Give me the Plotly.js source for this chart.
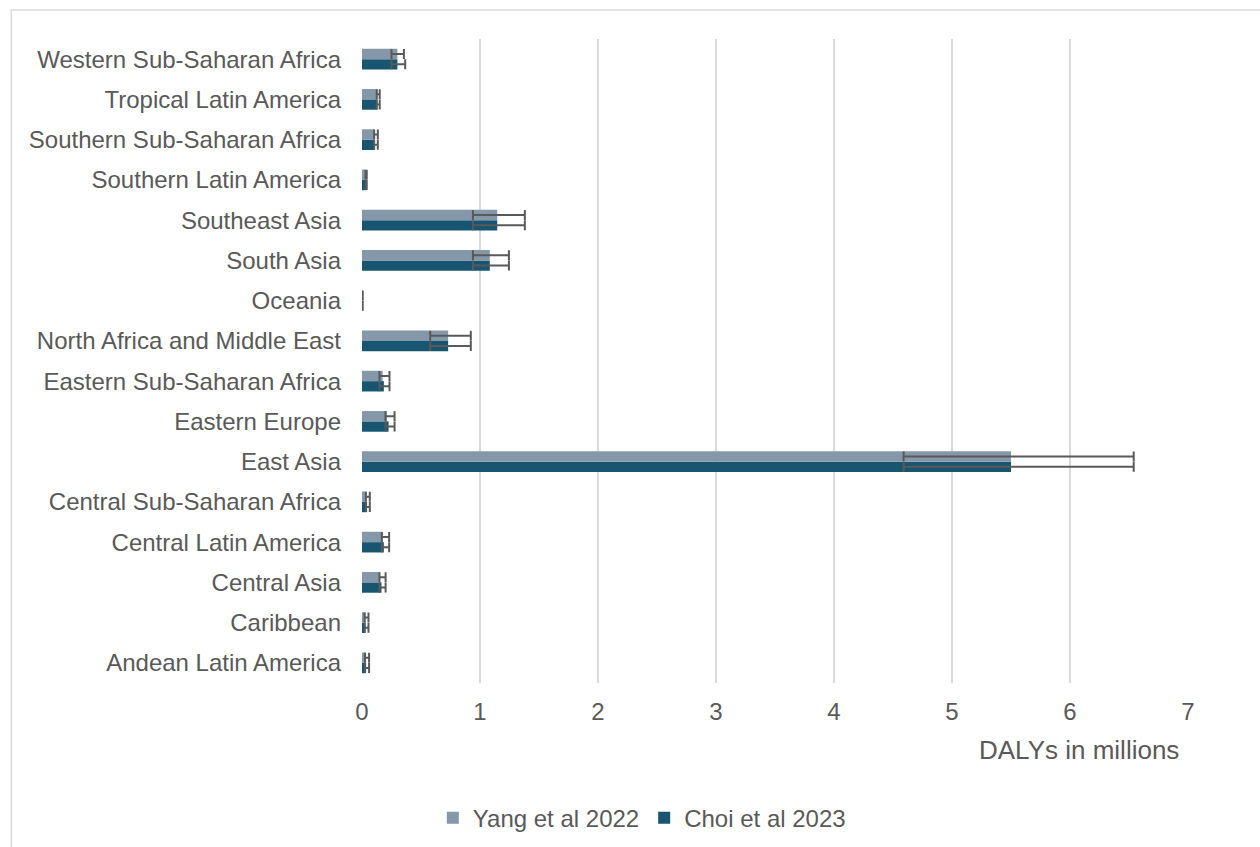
<!DOCTYPE html>
<html>
<head>
<meta charset="utf-8">
<script src="https://cdn.plot.ly/plotly-3.0.1.min.js"></script>
<style>
  html, body { margin: 0; padding: 0; background: #ffffff; }
  #chart { width: 1260px; height: 847px; }
</style>
</head>
<body>
<div id="chart"></div>
<script>
// Regions, listed bottom to top as they appear on the category axis
const regions = [
  "Andean Latin America",
  "Caribbean",
  "Central Asia",
  "Central Latin America",
  "Central Sub-Saharan Africa",
  "East Asia",
  "Eastern Europe",
  "Eastern Sub-Saharan Africa",
  "North Africa and Middle East",
  "Oceania",
  "South Asia",
  "Southeast Asia",
  "Southern Latin America",
  "Southern Sub-Saharan Africa",
  "Tropical Latin America",
  "Western Sub-Saharan Africa"
];

// DALYs (millions)
const yang2022 = [0.035, 0.030, 0.150, 0.175, 0.035, 5.50, 0.210, 0.175, 0.730, 0.004, 1.083, 1.146, 0.032, 0.105, 0.130, 0.300];
const choi2023 = [0.035, 0.030, 0.165, 0.185, 0.040, 5.50, 0.225, 0.185, 0.730, 0.004, 1.083, 1.146, 0.032, 0.108, 0.130, 0.300];

// Uncertainty interval bounds (millions)
const yangLower = [0.025, 0.022, 0.148, 0.168, 0.033, 4.59, 0.199, 0.148, 0.578, 0.003, 0.940, 0.940, 0.030, 0.103, 0.125, 0.250];
const yangUpper = [0.060, 0.055, 0.200, 0.230, 0.066, 6.54, 0.276, 0.233, 0.922, 0.006, 1.245, 1.380, 0.040, 0.134, 0.150, 0.355];
const choiLower = [0.025, 0.022, 0.148, 0.168, 0.035, 4.59, 0.199, 0.148, 0.578, 0.003, 0.940, 0.940, 0.030, 0.103, 0.125, 0.250];
const choiUpper = [0.060, 0.055, 0.200, 0.230, 0.066, 6.54, 0.276, 0.233, 0.922, 0.006, 1.245, 1.380, 0.040, 0.134, 0.150, 0.366];

const xTicks = [0, 1, 2, 3, 4, 5, 6, 7];

const plus = (v, hi) => v.map((d, i) => Math.max(hi[i] - d, 0));
const minus = (v, lo) => v.map((d, i) => Math.max(d - lo[i], 0));

const errStyle = { color: "#595959", thickness: 2, width: 5 };
const font = "Liberation Sans, Arial, sans-serif";
const textColor = "#595959";

// Horizontal grouped bars: the first trace sits lower in each group
const traces = [
  {
    type: "bar",
    orientation: "h",
    name: "Choi et al 2023",
    y: regions,
    x: choi2023,
    marker: { color: "#175570" },
    error_x: Object.assign({ type: "data", symmetric: false,
      array: plus(choi2023, choiUpper), arrayminus: minus(choi2023, choiLower) }, errStyle),
    legendrank: 2,
    hoverinfo: "x+y+name"
  },
  {
    type: "bar",
    orientation: "h",
    name: "Yang et al 2022",
    y: regions,
    x: yang2022,
    marker: { color: "#8598AA" },
    error_x: Object.assign({ type: "data", symmetric: false,
      array: plus(yang2022, yangUpper), arrayminus: minus(yang2022, yangLower) }, errStyle),
    legendrank: 1,
    hoverinfo: "x+y+name"
  }
];

const layout = {
  width: 1260,
  height: 847,
  margin: { l: 362, r: 72, t: 39, b: 164, pad: 0 },
  paper_bgcolor: "#ffffff",
  plot_bgcolor: "#ffffff",
  font: { family: font, color: textColor, size: 24 },
  barmode: "group",
  bargap: 0.486,
  bargroupgap: 0,
  showlegend: true,
  legend: {
    orientation: "h",
    xref: "container",
    yref: "container",
    x: 0.3435,
    xanchor: "left",
    y: 0.0342,
    yanchor: "middle",
    font: { family: font, color: textColor, size: 24 },
    traceorder: "normal",
    itemclick: false,
    itemdoubleclick: false
  },
  xaxis: {
    range: [0, 7],
    tickvals: xTicks,
    ticktext: xTicks.map(String),
    showgrid: true,
    gridcolor: "#d9d9d9",
    gridwidth: 2,
    zeroline: false,
    showline: false,
    ticks: "",
    ticklabelstandoff: 12,
    automargin: false,
    tickfont: { family: font, color: textColor, size: 24 },
    fixedrange: true
  },
  yaxis: {
    type: "category",
    categoryorder: "array",
    categoryarray: regions,
    showgrid: false,
    zeroline: false,
    showline: false,
    ticks: "",
    ticklabelstandoff: 20,
    automargin: false,
    tickfont: { family: font, color: textColor, size: 24 },
    fixedrange: true
  },
  annotations: [
    {
      text: "DALYs in millions",
      xref: "paper",
      yref: "paper",
      x: 0.9915,
      xanchor: "right",
      y: -0.1035,
      yanchor: "middle",
      showarrow: false,
      font: { family: font, color: textColor, size: 26 }
    }
  ],
  shapes: [
    {
      // outer chart frame
      type: "rect",
      xref: "paper",
      yref: "paper",
      x0: -0.4245,
      x1: 1.2,
      y0: -0.4,
      y1: 1.045,
      line: { color: "#d9d9d9", width: 1.5 },
      fillcolor: "rgba(0,0,0,0)",
      layer: "below"
    }
  ]
};

Plotly.newPlot("chart", traces, layout, { displayModeBar: false, staticPlot: true });
</script>
</body>
</html>
